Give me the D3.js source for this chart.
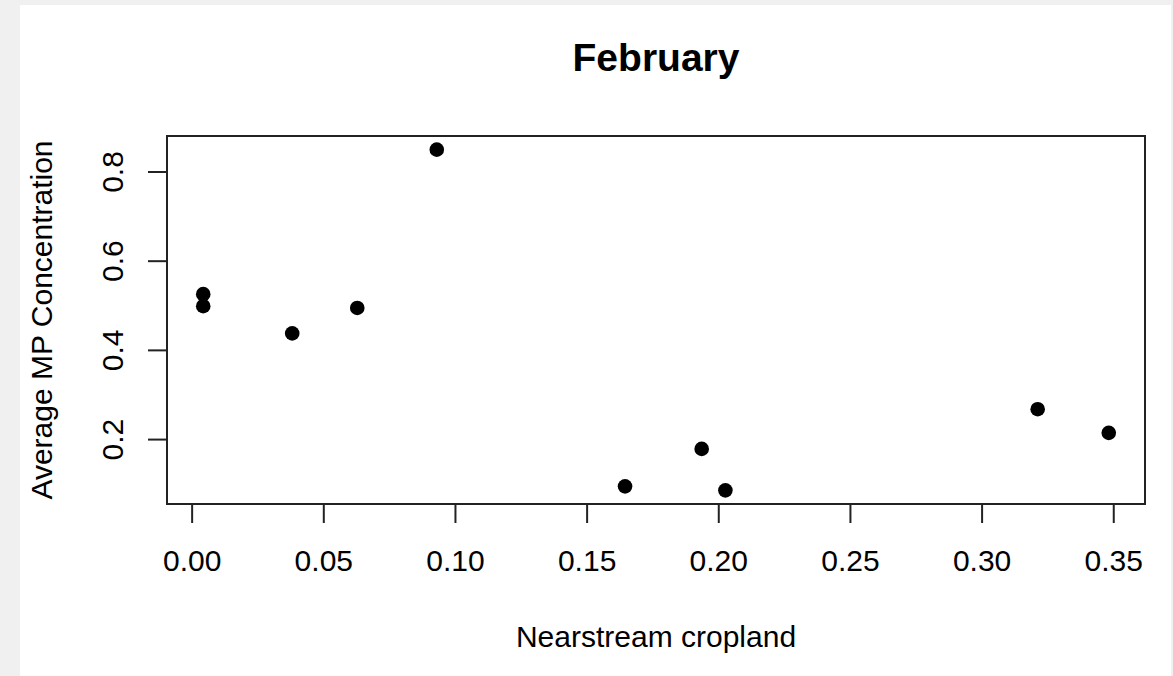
<!DOCTYPE html>
<html>
<head>
<meta charset="utf-8">
<script src="https://cdn.jsdelivr.net/npm/d3@7"></script>
<style>
    body { margin: 0; background: #f0f0f0; }
    svg { display: block; }
    text { font-family: "Liberation Sans", Arial, sans-serif; fill: #000; }
</style>
</head>
<body>
<div class="plot"></div>
<script>
"use strict";

var title = "February";
var xLabel = "Nearstream cropland";
var yLabel = "Average MP Concentration";

var cropland = [0.0044, 0.0044, 0.0382, 0.0629, 0.0931, 0.1646, 0.1937, 0.2027, 0.3213, 0.3483];
var concentration = [0.525, 0.498, 0.437, 0.494, 0.849, 0.094, 0.178, 0.085, 0.267, 0.214];

var xTicks = [0.00, 0.05, 0.10, 0.15, 0.20, 0.25, 0.30, 0.35];
var yTicks = [0.2, 0.4, 0.6, 0.8];

var W = 1173, H = 676;
var box = { left: 167, right: 1145, top: 136, bottom: 504 };

// R style range: data extent padded by 4% on each side
const padExtent = v => {
    var e = d3.extent(v);
    var p = (e[1] - e[0]) * 0.04;
    return [e[0] - p, e[1] + p];
};

var points = cropland.map((c, i) => ({ x: c, y: concentration[i] }));

var svg = d3.select(".plot")
    .append("svg")
    .attr("width", W)
    .attr("height", H);

svg.append("rect")
    .attr("x", 20)
    .attr("y", 5)
    .attr("width", 1151)
    .attr("height", H - 5)
    .attr("fill", "#fff");

var x = d3.scaleLinear()
    .domain(padExtent(cropland))
    .range([box.left, box.right]);

var y = d3.scaleLinear()
    .domain(padExtent(concentration))
    .range([box.bottom, box.top]);

// x axis
var xAxis = svg.append("g")
    .attr("transform", "translate(0," + box.bottom + ")")
    .call(d3.axisBottom(x).tickValues(xTicks).tickFormat(d3.format(".2f")).tickSize(19).tickSizeOuter(0));
xAxis.select(".domain").attr("stroke", "none");
xAxis.selectAll(".tick line").attr("stroke", "#222").attr("stroke-width", 2);
xAxis.selectAll(".tick text")
    .attr("y", 67)
    .attr("dy", 0)
    .style("font-size", "30px")
    .style("font-family", "'Liberation Sans', Arial, sans-serif");

// y axis
var yAxis = svg.append("g")
    .attr("transform", "translate(" + box.left + ",0)")
    .call(d3.axisLeft(y).tickValues(yTicks).tickFormat(d3.format(".1f")).tickSize(19).tickSizeOuter(0));
yAxis.select(".domain").attr("stroke", "none");
yAxis.selectAll(".tick line").attr("stroke", "#222").attr("stroke-width", 2);
yAxis.selectAll(".tick text")
    .attr("x", 0)
    .attr("dy", 0)
    .attr("text-anchor", "middle")
    .attr("transform", "translate(-44,0) rotate(-90)")
    .style("font-size", "30px")
    .style("font-family", "'Liberation Sans', Arial, sans-serif");

// frame
svg.append("rect")
    .attr("x", box.left)
    .attr("y", box.top)
    .attr("width", box.right - box.left)
    .attr("height", box.bottom - box.top)
    .attr("fill", "none")
    .attr("stroke", "#222")
    .attr("stroke-width", 2);

svg.selectAll("circle.pt")
    .data(points)
    .enter()
    .append("circle")
    .attr("class", "pt")
    .attr("cx", d => x(d.x))
    .attr("cy", d => y(d.y))
    .attr("r", 7.3)
    .attr("fill", "#000");

svg.append("text")
    .attr("x", (box.left + box.right) / 2)
    .attr("y", 71)
    .attr("text-anchor", "middle")
    .style("font-size", "39px")
    .style("font-weight", "bold")
    .text(title);

svg.append("text")
    .attr("x", (box.left + box.right) / 2)
    .attr("y", 647)
    .attr("text-anchor", "middle")
    .style("font-size", "30px")
    .text(xLabel);

svg.append("text")
    .attr("transform", "translate(52," + (box.top + box.bottom) / 2 + ") rotate(-90)")
    .attr("text-anchor", "middle")
    .style("font-size", "30px")
    .text(yLabel);
</script>
</body>
</html>
